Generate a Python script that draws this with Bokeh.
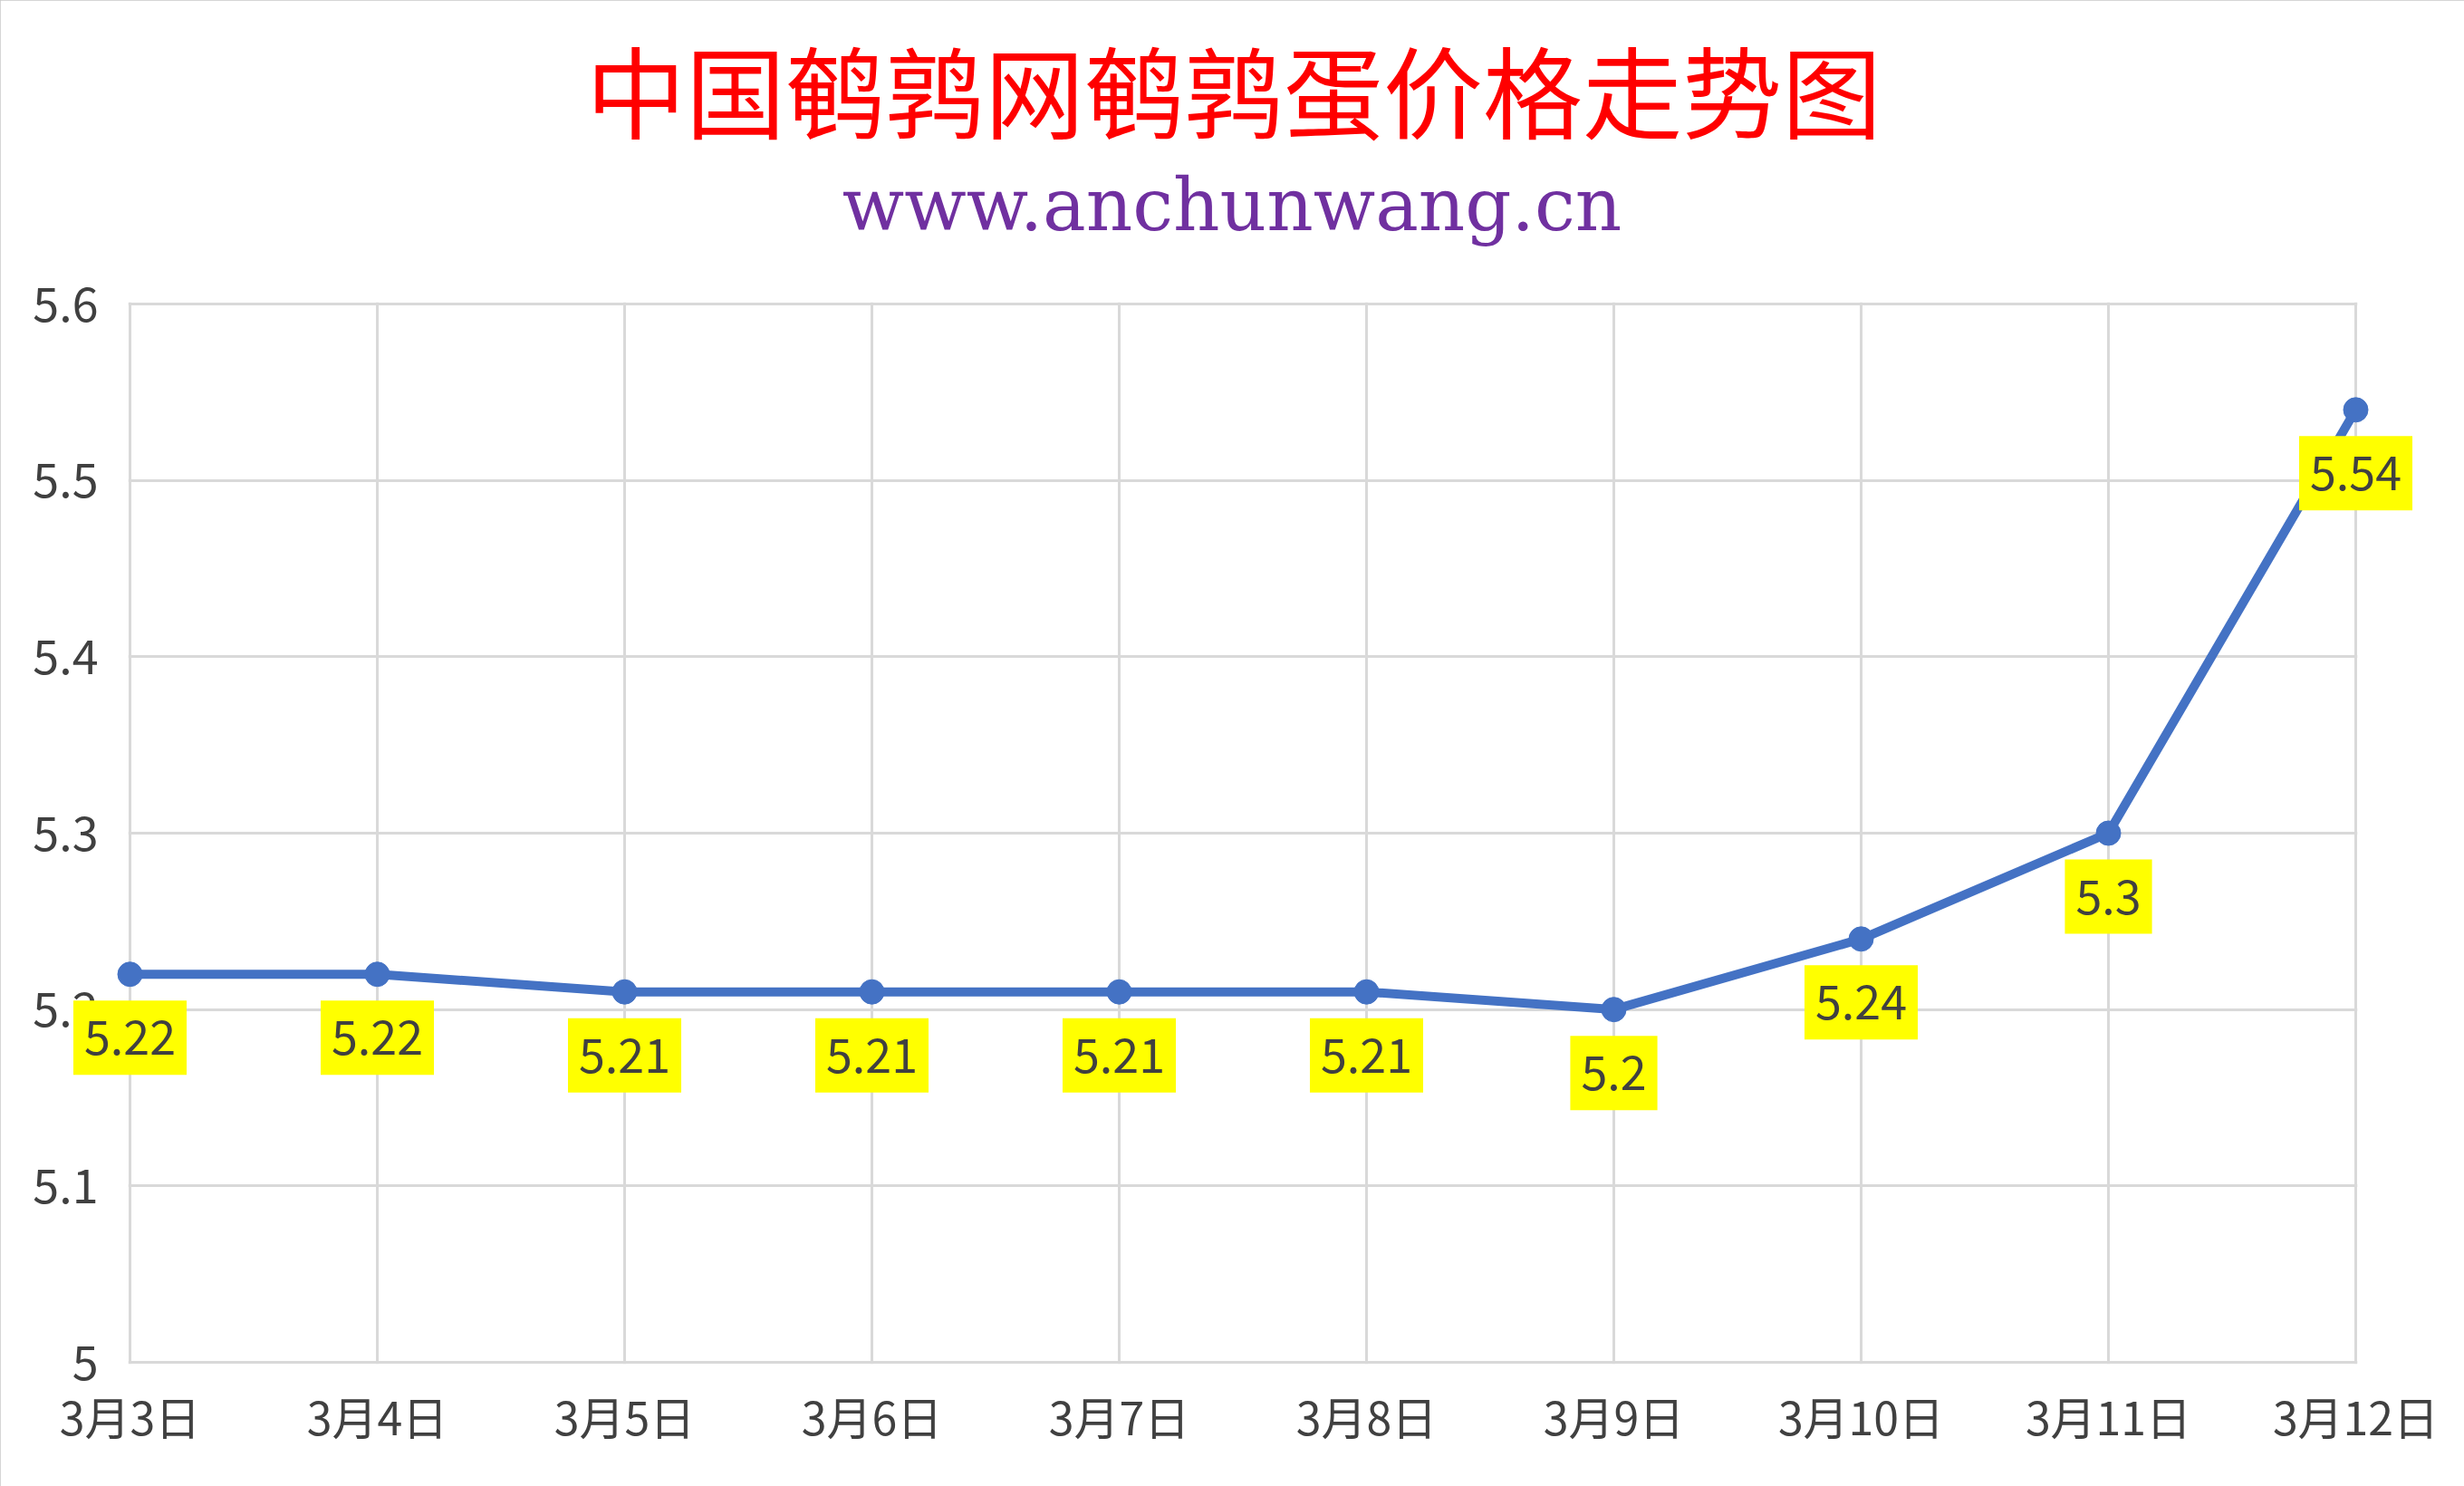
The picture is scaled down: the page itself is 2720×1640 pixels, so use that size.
from bokeh.plotting import figure
from bokeh.models import Range1d, FixedTicker, NumeralTickFormatter, ColumnDataSource
from bokeh.embed import file_html
from bokeh.resources import INLINE
from bokeh.core.properties import value

# ---- data ----
dates = ["3月3日", "3月4日", "3月5日", "3月6日", "3月7日",
         "3月8日", "3月9日", "3月10日", "3月11日", "3月12日"]
prices = [5.22, 5.22, 5.21, 5.21, 5.21, 5.21, 5.20, 5.24, 5.30, 5.54]
y_ticks = [5.0, 5.1, 5.2, 5.3, 5.4, 5.5, 5.6]
title_text = "中国鹌鹑网鹌鹑蛋价格走势图"
subtitle_text = "www.anchunwang.cn"

# ---- layout (pixels) ----
W, H = 2720, 1640
DL, DR, DT, DB = 143, 2600, 335, 1503      # data area
PAD = 2                                    # small pad so edge grid lines are drawn
FL, FR, FT, FB = DL - PAD, DR + PAD, DT - PAD, DB + PAD
nx = len(dates) - 1
xpad = PAD * nx / (DR - DL)
ypad = PAD * (y_ticks[-1] - y_ticks[0]) / (DB - DT)

idx = list(range(len(dates)))
src = ColumnDataSource(dict(x=idx, y=prices, lab=[f"{v:g}" for v in prices]))

p = figure(frame_width=FR - FL, frame_height=FB - FT, output_backend="svg", toolbar_location=None,
           x_range=Range1d(-xpad, nx + xpad),
           y_range=Range1d(y_ticks[0] - ypad, y_ticks[-1] + ypad),
           min_border_left=FL, min_border_right=W - FR, min_border_top=FT, min_border_bottom=H - FB,
           background_fill_color="white", border_fill_color="white")
p.outline_line_color = None
p.styles = {"outline": "3px solid #C8C8C8", "outline-offset": "-3px"}

# axes
p.xaxis.ticker = FixedTicker(ticks=idx)
p.xaxis.major_label_overrides = {i: d for i, d in enumerate(dates)}
p.yaxis.ticker = FixedTicker(ticks=y_ticks)
p.yaxis.formatter = NumeralTickFormatter(format="0.[0]")
for ax in (p.xaxis[0], p.yaxis[0]):
    ax.axis_line_color = None
    ax.major_tick_line_color = None
    ax.minor_tick_line_color = None
    ax.major_tick_in = 0
    ax.major_tick_out = 0
    ax.major_label_text_font = "Noto Sans CJK SC"
    ax.major_label_text_color = "#404040"
p.xaxis.major_label_text_font_size = "50px"
p.yaxis.major_label_text_font_size = "52px"
p.xaxis.major_label_standoff = 20
p.yaxis.major_label_standoff = 33

p.xgrid.ticker = FixedTicker(ticks=idx)
p.ygrid.ticker = FixedTicker(ticks=y_ticks)
for g in (p.xgrid[0], p.ygrid[0]):
    g.grid_line_color = "#D9D9D9"
    g.grid_line_width = 3

# series
ln = p.line("x", "y", source=src, line_color="#4472C4", line_width=10, line_join="round")
sc = p.scatter("x", "y", source=src, size=27, fill_color="#4472C4", line_color="#4472C4")
tx = p.text("x", "y", text="lab", source=src, y_offset=70,
            text_align="center", text_baseline="middle",
            text_font=value("Noto Sans CJK SC"), text_font_size="52px", text_color="#404040",
            background_fill_color="#FFFF00",
            padding=dict(left=12, right=12, top=22, bottom=22))

# titles, anchored at the top centre of the data area
tt = p.text(x=[nx / 2], y=[y_ticks[-1]], text=[title_text], x_offset=-10, y_offset=-(DT - 96),
            text_align="center", text_baseline="middle",
            text_font=value("Noto Sans CJK SC"), text_font_size="110px", text_color="#FF0000")
st = p.text(x=[nx / 2], y=[y_ticks[-1]], text=[subtitle_text], x_offset=-12, y_offset=-(DT - 226),
            text_align="center", text_baseline="alphabetic",
            text_font=value("DejaVu Serif"), text_font_size="80px", text_color="#7030A0")
for r in (ln, sc, tx, tt, st):
    r.level = "annotation"

open("out.html", "w").write(file_html(p, INLINE))
